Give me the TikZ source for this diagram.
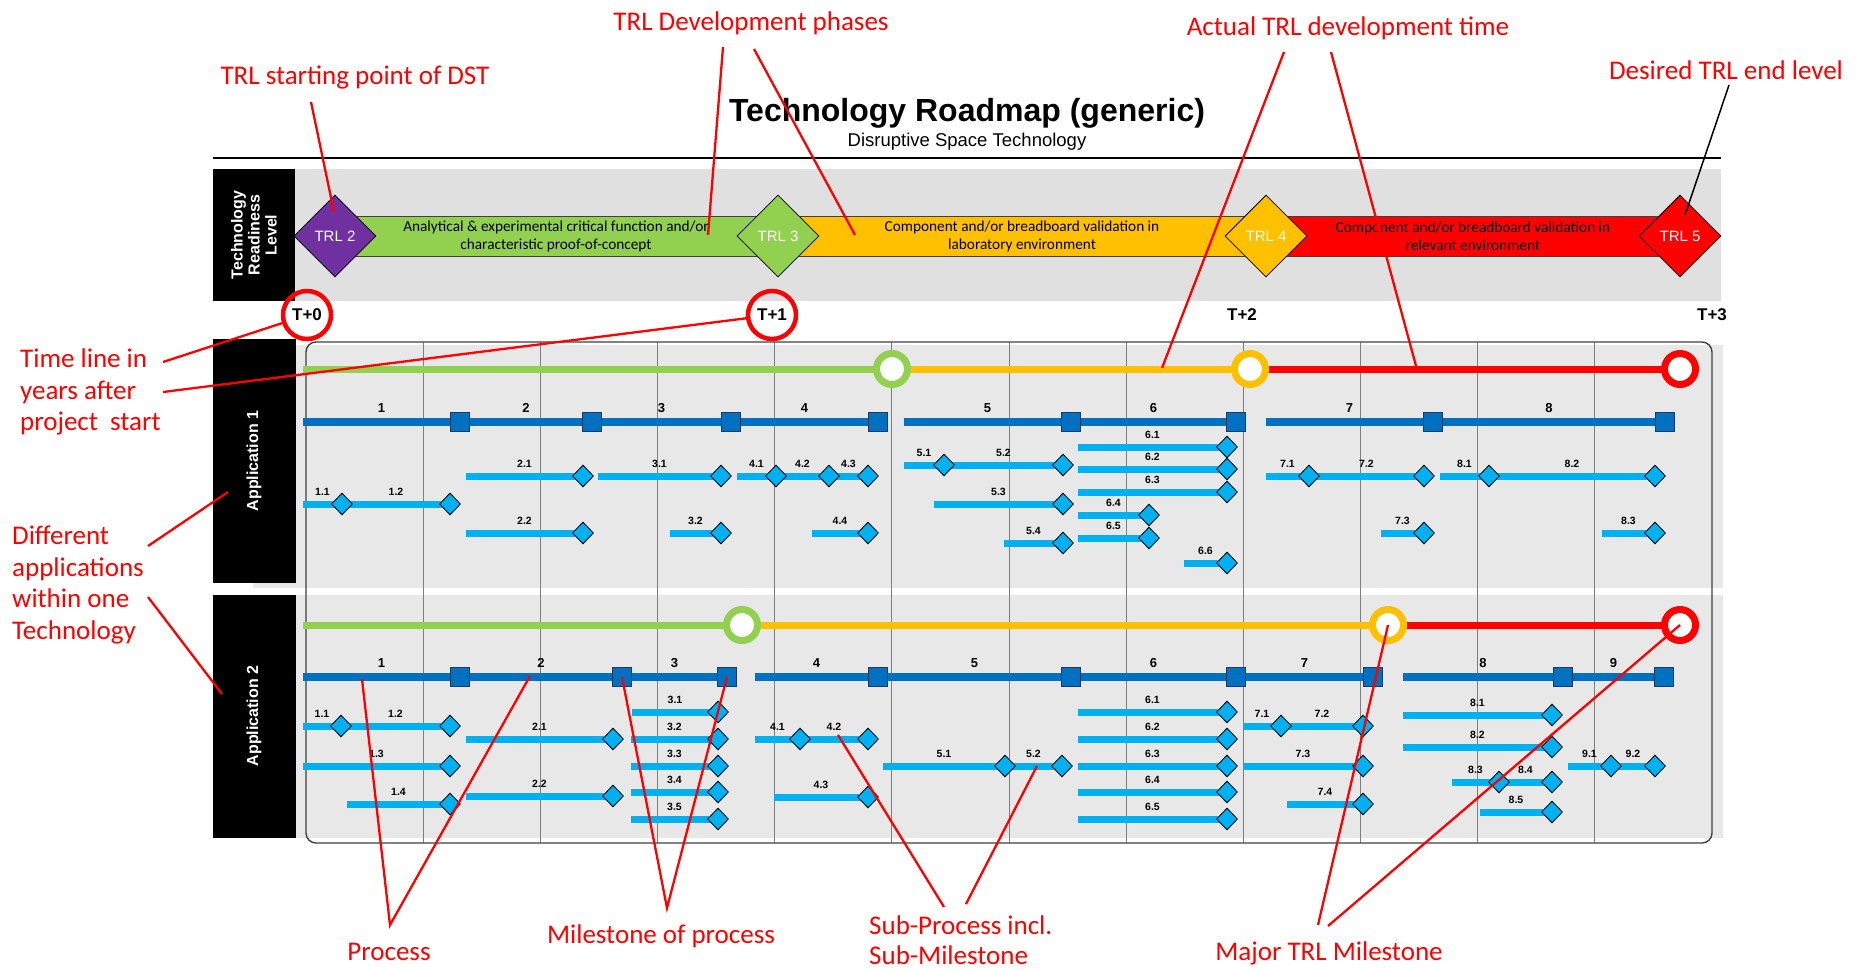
\documentclass[tikz,border=0pt]{standalone}
\usepackage{fontspec}
\setmainfont{Liberation Sans}
\newfontfamily\calib{Carlito}
\usetikzlibrary{shapes.geometric}

\definecolor{trlgreen}{HTML}{92D050}
\definecolor{trlorange}{HTML}{FFC000}
\definecolor{trlred}{HTML}{FF0000}
\definecolor{trlpurple}{HTML}{7030A0}
\definecolor{procblue}{HTML}{0070C0}
\definecolor{subblue}{HTML}{00B0F0}
\definecolor{bandgrey}{HTML}{E0E0E0}
\definecolor{appgrey}{HTML}{E8E8E8}
\definecolor{navy}{HTML}{1F3A60}
\definecolor{notered}{HTML}{FF0000}
\definecolor{gridgrey}{HTML}{7F7F7F}

\pgfdeclarelayer{back}
\pgfdeclarelayer{bars}
\pgfdeclarelayer{front}
\pgfsetlayers{back,bars,main,front}

\tikzset{
  procbar/.style={draw=procblue, line width=7.5pt},
  procms/.style={rectangle, draw=navy, line width=0.8pt, fill=procblue,
    minimum size=19pt, inner sep=0pt},
  proclbl/.style={font=\bfseries\fontsize{13}{13}\selectfont, inner sep=0pt},
  subbar/.style={draw=subblue, line width=7pt},
  subms/.style={diamond, draw=black, line width=0.8pt, fill=subblue,
    minimum width=21pt, minimum height=22pt, inner sep=0pt},
  sublbl/.style={font=\bfseries\fontsize{10.5}{10.5}\selectfont, inner sep=0pt},
  trlgem/.style={diamond, draw=black, line width=0.8pt, minimum width=82pt,
    minimum height=82pt, inner sep=0pt, text=white,
    font=\fontsize{15}{15}\selectfont},
  trlring/.style={circle, line width=7pt, fill=white, minimum size=31pt, inner sep=0pt},
  trlline/.style={line width=7pt},
  phasebar/.style={draw=black!75, line width=0.8pt},
  phase/.style={font=\calib\fontsize{15.3}{18}\selectfont, align=center, inner sep=0pt},
  tlabel/.style={circle, font=\bfseries\fontsize{17}{17}\selectfont, inner sep=0pt,
    minimum size=48pt},
  tcircle/.style={draw=notered, line width=4.5pt},
  annot/.style={text=notered, font=\calib\fontsize{27}{31.5}\selectfont, inner sep=0pt},
  redlead/.style={draw=notered, line width=2.3pt},
  blacklead/.style={draw=black, line width=1.5pt},
  blackbox/.style={fill=black},
  boxlbl/.style={text=white, font=\bfseries\fontsize{16}{17}\selectfont, rotate=90,
    align=center, inner sep=0pt},
  gridln/.style={draw=gridgrey, line width=1pt},
  frameln/.style={draw=black!75, line width=1.4pt, rounded corners=10pt},
}

% process segment: name, x from, x to, y, label
\newcommand\procseg[5]{%
  \begin{pgfonlayer}{bars}\draw[procbar] (#2,#4) -- (#3,#4);\end{pgfonlayer}
  \node[procms] (#1) at (#3,#4) {};
  \node[proclbl] (#1t) at ({(#2+#3)/2},{#4-14}) {#5};
}
% sub-process segment: name, x from, x to, y, label
\newcommand\subseg[5]{%
  \begin{pgfonlayer}{bars}\draw[subbar] (#2,#4) -- (#3,#4);\end{pgfonlayer}
  \node[subms] (#1) at (#3,#4) {};
  \node[sublbl] (#1t) at ({(#2+#3)/2},{#4-12}) {#5};
}

\begin{document}
\begin{tikzpicture}[x=1pt,y=-1pt]
\useasboundingbox (0,0) rectangle (1866,970);
\begin{pgfonlayer}{back}
  \fill[white] (0,0) rectangle (1866,970);
  % readiness band and application panels
  \fill[bandgrey] (295,169) rectangle (1721,301);
  \fill[appgrey] (253,345) rectangle (1723,588);
  \fill[appgrey] (253,595) rectangle (1723,838);
  \foreach \k in {1,...,11}
    \draw[gridln] ({306+117.17*\k},342) -- ({306+117.17*\k},843);
  \draw[frameln] (306,342) rectangle (1712,843);
  \fill[blackbox] (213,169) rectangle (295,301);
  \fill[blackbox] (213,339) rectangle (296,583);
  \fill[blackbox] (213,595) rectangle (296,838);
\end{pgfonlayer}

% title
\node[anchor=base, font=\bfseries\fontsize{32}{32}\selectfont, inner sep=0pt] (title) at (967,121) {Technology Roadmap (generic)};
\node[anchor=base, font=\fontsize{18.5}{18.5}\selectfont, inner sep=0pt] (subtitle) at (967,146) {Disruptive Space Technology};
\coordinate (ruleL) at (213,158);
\coordinate (ruleR) at (1721,158);
\draw[line width=1.3pt] (ruleL) -- (ruleR);

% side labels
\node[boxlbl] (trlbox) at (254,235) {Technology\\Readiness\\Level};
\node[boxlbl] (app1) at (254,461) {Application 1};
\node[boxlbl] (app2) at (254,716) {Application 2};

% TRL phases
\begin{pgfonlayer}{bars}
  \draw[phasebar, fill=trlgreen] (335,216) rectangle (778,256);
  \draw[phasebar, fill=trlorange] (778,216) rectangle (1266,256);
  \draw[phasebar, fill=trlred] (1266,216) rectangle (1680,256);
\end{pgfonlayer}
\node[phase] (ph1) at (556,236) {Analytical \& experimental critical function and/or\\characteristic proof-of-concept};
\node[phase] (ph2) at (1022,236) {Component and/or breadboard validation in\\laboratory environment};
\node[phase] (ph3) at (1473,236) {Component and/or breadboard validation in\\relevant environment};
\node[trlgem, fill=trlpurple] (trl2) at (335,236) {TRL 2};
\node[trlgem, fill=trlgreen] (trl3) at (778,236) {TRL 3};
\node[trlgem, fill=trlorange] (trl4) at (1266,236) {TRL 4};
\node[trlgem, fill=trlred] (trl5) at (1680,236) {TRL 5};

% years
\node[tlabel, tcircle] (t0) at (307,315) {T+0};
\node[tlabel, tcircle] (t1) at (772,315) {T+1};
\node[tlabel] (t2) at (1242,315) {T+2};
\node[tlabel] (t3) at (1712,315) {T+3};

% ---------- Application 1 ----------
\begin{pgfonlayer}{bars}
  \draw[trlline, trlgreen] (303,369) -- (892,369);
  \draw[trlline, trlorange] (892,369) -- (1250,369);
  \draw[trlline, trlred] (1250,369) -- (1680,369);
\end{pgfonlayer}
\node[trlring, draw=trlgreen] (ra1) at (892,369) {};
\node[trlring, draw=trlorange] (ra2) at (1250,369) {};
\node[trlring, draw=trlred] (ra3) at (1680,369) {};

\procseg{pa1}{303}{460}{422}{1}
\procseg{pa2}{460}{592}{422}{2}
\procseg{pa3}{592}{731}{422}{3}
\procseg{pa4}{731}{878}{422}{4}
\procseg{pa5}{904}{1071}{422}{5}
\procseg{pa6}{1071}{1236}{422}{6}
\procseg{pa7}{1266}{1433}{422}{7}
\procseg{pa8}{1433}{1665}{422}{8}

\subseg{sa21}{466}{583}{476}{2.1}
\subseg{sa31}{598}{721}{476}{3.1}
\subseg{sa41}{737}{776}{476}{4.1}
\subseg{sa42}{776}{829}{476}{4.2}
\subseg{sa43}{829}{868}{476}{4.3}
\subseg{sa11}{303}{342}{504}{1.1}
\subseg{sa12}{342}{450}{504}{1.2}
\subseg{sa22}{466}{583}{533}{2.2}
\subseg{sa32}{670}{721}{533}{3.2}
\subseg{sa44}{812}{868}{533}{4.4}
\subseg{sa51}{904}{944}{465}{5.1}
\subseg{sa52}{944}{1063}{465}{5.2}
\subseg{sa53}{934}{1063}{504}{5.3}
\subseg{sa54}{1004}{1063}{543}{5.4}
\subseg{sa61}{1078}{1227}{447}{6.1}
\subseg{sa62}{1078}{1227}{469}{6.2}
\subseg{sa63}{1078}{1227}{492}{6.3}
\subseg{sa64}{1078}{1149}{515}{6.4}
\subseg{sa65}{1078}{1149}{538}{6.5}
\subseg{sa66}{1184}{1227}{563}{6.6}
\subseg{sa71}{1266}{1309}{476}{7.1}
\subseg{sa72}{1309}{1424}{476}{7.2}
\subseg{sa81}{1440}{1489}{476}{8.1}
\subseg{sa82}{1489}{1655}{476}{8.2}
\subseg{sa73}{1381}{1424}{533}{7.3}
\subseg{sa83}{1602}{1655}{533}{8.3}

% ---------- Application 2 ----------
\begin{pgfonlayer}{bars}
  \draw[trlline, trlgreen] (303,625) -- (742,625);
  \draw[trlline, trlorange] (742,625) -- (1388,625);
  \draw[trlline, trlred] (1388,625) -- (1680,625);
\end{pgfonlayer}
\node[trlring, draw=trlgreen] (rb1) at (742,625) {};
\node[trlring, draw=trlorange] (rb2) at (1388,625) {};
\node[trlring, draw=trlred] (rb3) at (1680,625) {};

\procseg{pb1}{303}{460}{677}{1}
\procseg{pb2}{460}{622}{677}{2}
\procseg{pb3}{622}{727}{677}{3}
\procseg{pb4}{755}{878}{677}{4}
\procseg{pb5}{878}{1071}{677}{5}
\procseg{pb6}{1071}{1236}{677}{6}
\procseg{pb7}{1236}{1373}{677}{7}
\procseg{pb8}{1403}{1563}{677}{8}
\procseg{pb9}{1563}{1664}{677}{9}

\subseg{sb11}{303}{341}{726}{1.1}
\subseg{sb12}{341}{450}{726}{1.2}
\subseg{sb13}{303}{450}{766}{1.3}
\subseg{sb14}{347}{450}{804}{1.4}
\subseg{sb21}{466}{613}{739}{2.1}
\subseg{sb22}{466}{613}{796}{2.2}
\subseg{sb31}{632}{718}{712}{3.1}
\subseg{sb32}{631}{718}{739}{3.2}
\subseg{sb33}{631}{718}{766}{3.3}
\subseg{sb34}{631}{718}{792}{3.4}
\subseg{sb35}{631}{718}{819}{3.5}
\subseg{sb41}{755}{800}{739}{4.1}
\subseg{sb42}{800}{868}{739}{4.2}
\subseg{sb43}{774}{868}{797}{4.3}
\subseg{sb51}{883}{1005}{766}{5.1}
\subseg{sb52}{1005}{1062}{766}{5.2}
\subseg{sb61}{1078}{1227}{712}{6.1}
\subseg{sb62}{1078}{1227}{739}{6.2}
\subseg{sb63}{1078}{1227}{766}{6.3}
\subseg{sb64}{1078}{1227}{792}{6.4}
\subseg{sb65}{1078}{1227}{819}{6.5}
\subseg{sb71}{1243}{1281}{726}{7.1}
\subseg{sb72}{1281}{1363}{726}{7.2}
\subseg{sb73}{1243}{1363}{766}{7.3}
\subseg{sb74}{1287}{1363}{804}{7.4}
\subseg{sb81}{1403}{1552}{715}{8.1}
\subseg{sb82}{1403}{1552}{747}{8.2}
\subseg{sb83}{1452}{1499}{782}{8.3}
\subseg{sb84}{1499}{1552}{782}{8.4}
\subseg{sb85}{1480}{1552}{812}{8.5}
\subseg{sb91}{1568}{1611}{766}{9.1}
\subseg{sb92}{1611}{1655}{766}{9.2}

% ---------- explanatory notes ----------
\node[annot] (aStart) at (355,77) {TRL starting point of DST};
\node[annot] (aPhase) at (751,23) {TRL Development phases};
\node[annot] (aActual) at (1348,28) {Actual TRL development time};
\node[annot] (aDesired) at (1726,70) {Desired TRL end level};
\node[annot, anchor=west, align=left] (aTime) at (20,392) {Time line in\\years after\\project\ \ start};
\node[annot, anchor=west, align=left] (aDiff) at (12,585) {Different\\applications\\within one\\Technology};
\node[annot] (aProc) at (389,952) {Process};
\node[annot] (aMile) at (661,936) {Milestone of process};
\node[annot, anchor=west, align=left, font=\calib\fontsize{27}{30}\selectfont] (aSub) at (869,940) {Sub-Process incl.\\Sub-Milestone};
\node[annot] (aMajor) at (1329,953) {Major TRL Milestone};

\coordinate (cStart) at (311,102);   \coordinate (eStart) at (334,212);
\coordinate (cPh1) at (723,47);      \coordinate (ePh1) at (708,235);
\coordinate (cPh2) at (754,49);      \coordinate (ePh2) at (855,235);
\coordinate (cAct1) at (1284,52);    \coordinate (eAct1) at (1162,368);
\coordinate (cAct2) at (1331,52);    \coordinate (eAct2) at (1416,366);
\coordinate (cDes) at (1729,85);     \coordinate (eDes) at (1685,215);
\coordinate (cTime1) at (163,362);
\coordinate (cTime2) at (163,392);
\coordinate (cDiff1) at (148,546);   \coordinate (eDiff1) at (228,492);
\coordinate (cDiff2) at (148,597);   \coordinate (eDiff2) at (222,694);
\coordinate (cProc) at (390,925);    \coordinate (eProc1) at (362,679);
                                     \coordinate (eProc2) at (530,676);
\coordinate (cMile) at (667,908);
\coordinate (cSub1) at (944,907);    \coordinate (eSub1) at (838,735);
\coordinate (cSub2) at (966,904);    \coordinate (eSub2) at (1037,766);
\coordinate (cMaj1) at (1318,925);
\coordinate (cMaj2) at (1328,926);

\begin{pgfonlayer}{front}
  \draw[redlead] (cStart) -- (eStart);
  \draw[redlead] (cPh1) -- (ePh1);
  \draw[redlead] (cPh2) -- (ePh2);
  \draw[redlead] (cAct1) -- (eAct1);
  \draw[redlead] (cAct2) -- (eAct2);
  \draw[blacklead] (cDes) -- (eDes);
  \draw[redlead] (cTime1) -- (t0);
  \draw[redlead] (cTime2) -- (t1);
  \draw[redlead] (cDiff1) -- (eDiff1);
  \draw[redlead] (cDiff2) -- (eDiff2);
  \draw[redlead] (eProc1) -- (cProc) -- (eProc2);
  \draw[redlead] (pb2.center) -- (cMile) -- (pb3.center);
  \draw[redlead] (cSub1) -- (eSub1);
  \draw[redlead] (cSub2) -- (eSub2);
  \draw[redlead] (cMaj1) -- (rb2.center);
  \draw[redlead] (cMaj2) -- (rb3.center);
\end{pgfonlayer}
\end{tikzpicture}
\end{document}
